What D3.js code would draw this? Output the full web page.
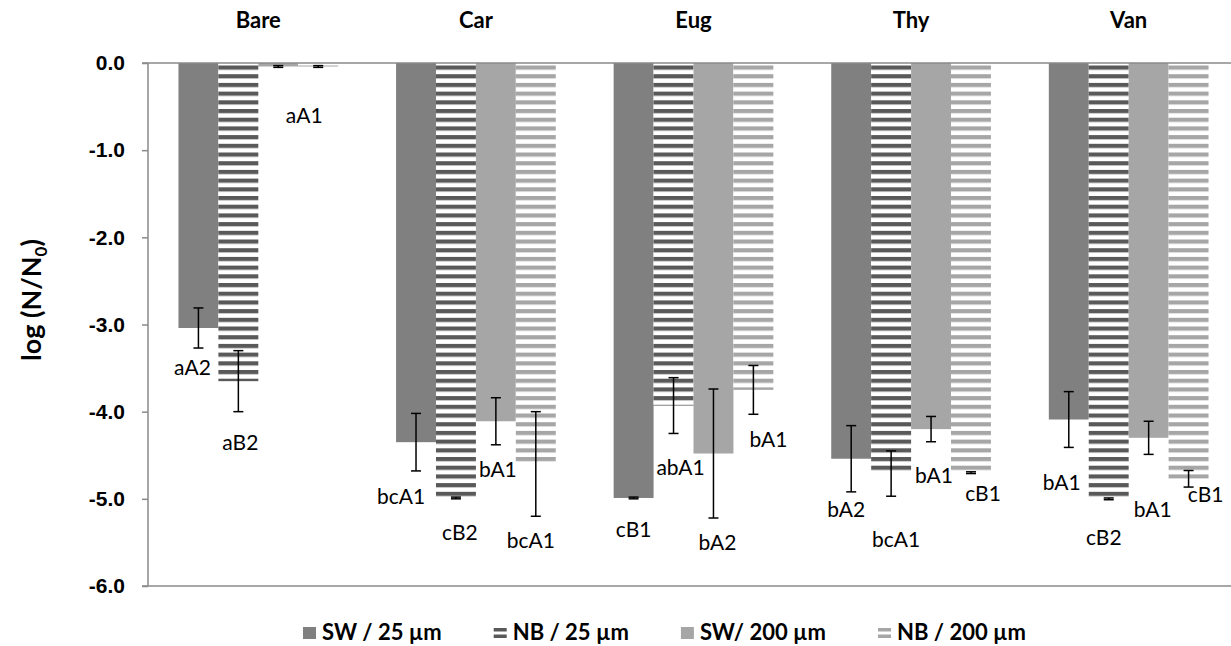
<!DOCTYPE html>
<html>
<head>
<meta charset="utf-8">
<script src="https://cdn.jsdelivr.net/npm/d3@7"></script>
<style>
  body { margin: 0; background: #fff; }
  svg { font-family: Lato, 'Open Sans', sans-serif; }
  .axis path, .axis line { stroke: #8a8a8a; stroke-width: 1.5; }
  .axis text { font-size: 21px; font-weight: bold; fill: #000; }
</style>
</head>
<body>
<svg id="chart" width="1231" height="646"></svg>
<script>
// data
var categories = ['Bare', 'Car', 'Eug', 'Thy', 'Van']
var seriesNames = ['SW / 25 µm', 'NB / 25 µm', 'SW/ 200 µm', 'NB / 200 µm']

var sw25 = [-3.04, -4.35, -4.99, -4.54, -4.09]
var nb25 = [-3.65, -4.99, -3.93, -4.71, -5.00]
var sw200 = [-0.04, -4.11, -4.48, -4.20, -4.30]
var nb200 = [-0.04, -4.60, -3.75, -4.70, -4.77]

var sw25Err = [0.23, 0.33, 0.01, 0.38, 0.32]
var nb25Err = [0.35, 0.01, 0.32, 0.26, 0.01]
var sw200Err = [0.01, 0.27, 0.74, 0.145, 0.19]
var nb200Err = [0.01, 0.60, 0.28, 0.01, 0.095]

// significance letters, per series, per category
var sw25Letters = ['aA2', 'bcA1', 'cB1', 'bA2', 'bA1']
var nb25Letters = ['aB2', 'cB2', 'abA1', 'bcA1', 'cB2']
var sw200Letters = ['', 'bA1', 'bA2', 'bA1', 'bA1']
var nb200Letters = ['aA1', 'bcA1', 'bA1', 'cB1', 'cB1']

var yTicks = [0, -1, -2, -3, -4, -5, -6]

// layout: nudges for letters, [dx, dy] in px from foot of error bar
var letterNudge = [
  [[-6, 19], [2, 31], [0, 0], [-14, 48]],
  [[-15, 25], [4, 34], [2, 25], [-5, 24]],
  [[0, 31], [7, 34], [4, 24], [15, 25]],
  [[-5, 18], [5, 43], [3, 34], [12, 20]],
  [[-7, 35], [-5, 38], [4, 55], [17, 7]]
]

var settings = { width: 1231, height: 646, left: 148, top: 63, bottom: 586, bandEnd: 1239 }

var series = [
  { key: seriesNames[0], values: sw25, err: sw25Err, letters: sw25Letters, fill: '#808080' },
  { key: seriesNames[1], values: nb25, err: nb25Err, letters: nb25Letters, fill: 'url(#stripeDark)', stripe: '#595959' },
  { key: seriesNames[2], values: sw200, err: sw200Err, letters: sw200Letters, fill: '#a6a6a6' },
  { key: seriesNames[3], values: nb200, err: nb200Err, letters: nb200Letters, fill: 'url(#stripeLight)', stripe: '#a6a6a6' }
]

var svg = d3.select('#chart')

// stripe patterns
var defs = svg.append('defs')
;[['stripeDark', '#595959'], ['stripeLight', '#a6a6a6']].forEach(function(p) {
  var pat = defs.append('pattern')
    .attr('id', p[0])
    .attr('patternUnits', 'userSpaceOnUse')
    .attr('x', 0)
    .attr('y', settings.top + 2.5)
    .attr('width', 20)
    .attr('height', 8.7)
  pat.append('rect').attr('width', 20).attr('height', 8.7).attr('fill', '#fff')
  pat.append('rect').attr('width', 20).attr('height', 4.2).attr('fill', p[1])
})

var y = d3.scaleLinear().domain([0, -6]).range([settings.top, settings.bottom])

var x0 = d3.scaleBand()
  .domain(categories)
  .range([settings.left, settings.bandEnd])
  .paddingInner(0.266)
  .paddingOuter(0.14)

var x1 = d3.scaleBand()
  .domain(seriesNames)
  .range([0, x0.bandwidth()])

// bars
var groups = svg.append('g').attr('class', 'bars')
  .selectAll('g').data(categories)
  .enter().append('g')
    .attr('transform', function(d) { return 'translate(' + x0(d) + ',0)' })

groups.selectAll('rect').data(function(c, ci) {
    return series.map(function(s) { return { s: s, v: s.values[ci], ci: ci } })
  })
  .enter().append('rect')
    .attr('x', function(d) { return x1(d.s.key) })
    .attr('y', y(0))
    .attr('width', x1.bandwidth())
    .attr('height', function(d) { return y(d.v) - y(0) })
    .attr('fill', function(d) { return d.s.fill })

// horizontal lines at 0 and -6
svg.append('g').selectAll('line').data([0, -6])
  .enter().append('line')
    .attr('x1', settings.left - 6)
    .attr('x2', settings.width)
    .attr('y1', function(d) { return y(d) })
    .attr('y2', function(d) { return y(d) })
    .attr('stroke', '#8a8a8a')
    .attr('stroke-width', 1.5)

// error bars
var errs = groups.selectAll('g.err').data(function(c, ci) {
    return series.map(function(s, si) { return { s: s, si: si, v: s.values[ci], e: s.err[ci], ci: ci } })
  })
  .enter().append('g')
    .attr('class', 'err')
    .attr('transform', function(d) { return 'translate(' + (x1(d.s.key) + x1.bandwidth() / 2) + ',0)' })

errs.append('line')
  .attr('y1', function(d) { return y(d.v + d.e) })
  .attr('y2', function(d) { return y(d.v - d.e) })
  .attr('stroke', '#000').attr('stroke-width', 1.5)
errs.selectAll('line.cap').data(function(d) { return [d.v + d.e, d.v - d.e] })
  .enter().append('line')
    .attr('class', 'cap')
    .attr('x1', -5).attr('x2', 5)
    .attr('y1', function(d) { return y(d) })
    .attr('y2', function(d) { return y(d) })
    .attr('stroke', '#000').attr('stroke-width', 1.5)

// letters
errs.append('text')
  .attr('x', function(d) { return letterNudge[d.ci][d.si][0] })
  .attr('y', function(d) { return y(d.v - d.e) + letterNudge[d.ci][d.si][1] })
  .attr('dy', '0.36em')
  .attr('text-anchor', 'middle')
  .attr('font-size', 21)
  .attr('fill', '#000')
  .text(function(d) { return d.s.letters[d.ci] })

// y axis
svg.append('g')
  .attr('class', 'axis')
  .attr('transform', 'translate(' + settings.left + ',0)')
  .call(d3.axisLeft(y).tickValues(yTicks).tickSize(6).tickPadding(17).tickFormat(function(d) { return d.toFixed(1) }))
  .call(function(g) { g.select('.domain').attr('d', 'M0,' + y(0) + 'V' + y(-6)) })

// category titles
svg.append('g').selectAll('text').data(categories)
  .enter().append('text')
    .attr('x', function(d) { return x0(d) + x0.bandwidth() / 2 })
    .attr('y', 28)
    .attr('text-anchor', 'middle')
    .attr('font-size', 22)
    .attr('font-weight', 'bold')
    .text(function(d) { return d })

// y title
var yTitle = svg.append('text')
  .attr('transform', 'translate(41,300) rotate(-90)')
  .attr('text-anchor', 'middle')
  .attr('font-size', 27)
  .attr('font-weight', 'bold')
yTitle.append('tspan').text('log (N/N')
yTitle.append('tspan').attr('font-size', 17).attr('dy', 6).text('0')
yTitle.append('tspan').attr('dy', -6).text(')')

// legend
var legend = svg.append('g').attr('class', 'legend')
var lx = 303
series.forEach(function(s) {
  var item = legend.append('g').attr('transform', 'translate(' + lx + ',627)')
  if (s.stripe) {
    item.append('rect').attr('width', 13).attr('height', 12).attr('fill', '#fff')
    item.append('rect').attr('y', 1).attr('width', 13).attr('height', 3.5).attr('fill', s.stripe)
    item.append('rect').attr('y', 7.5).attr('width', 13).attr('height', 3.5).attr('fill', s.stripe)
  } else {
    item.append('rect').attr('width', 13).attr('height', 12).attr('fill', s.fill)
  }
  var t = item.append('text')
    .attr('x', 19)
    .attr('y', 13)
    .attr('font-size', 22)
    .attr('font-weight', 'bold')
    .text(s.key)
  lx += 19 + t.node().getComputedTextLength() + 52
})
</script>
</body>
</html>
